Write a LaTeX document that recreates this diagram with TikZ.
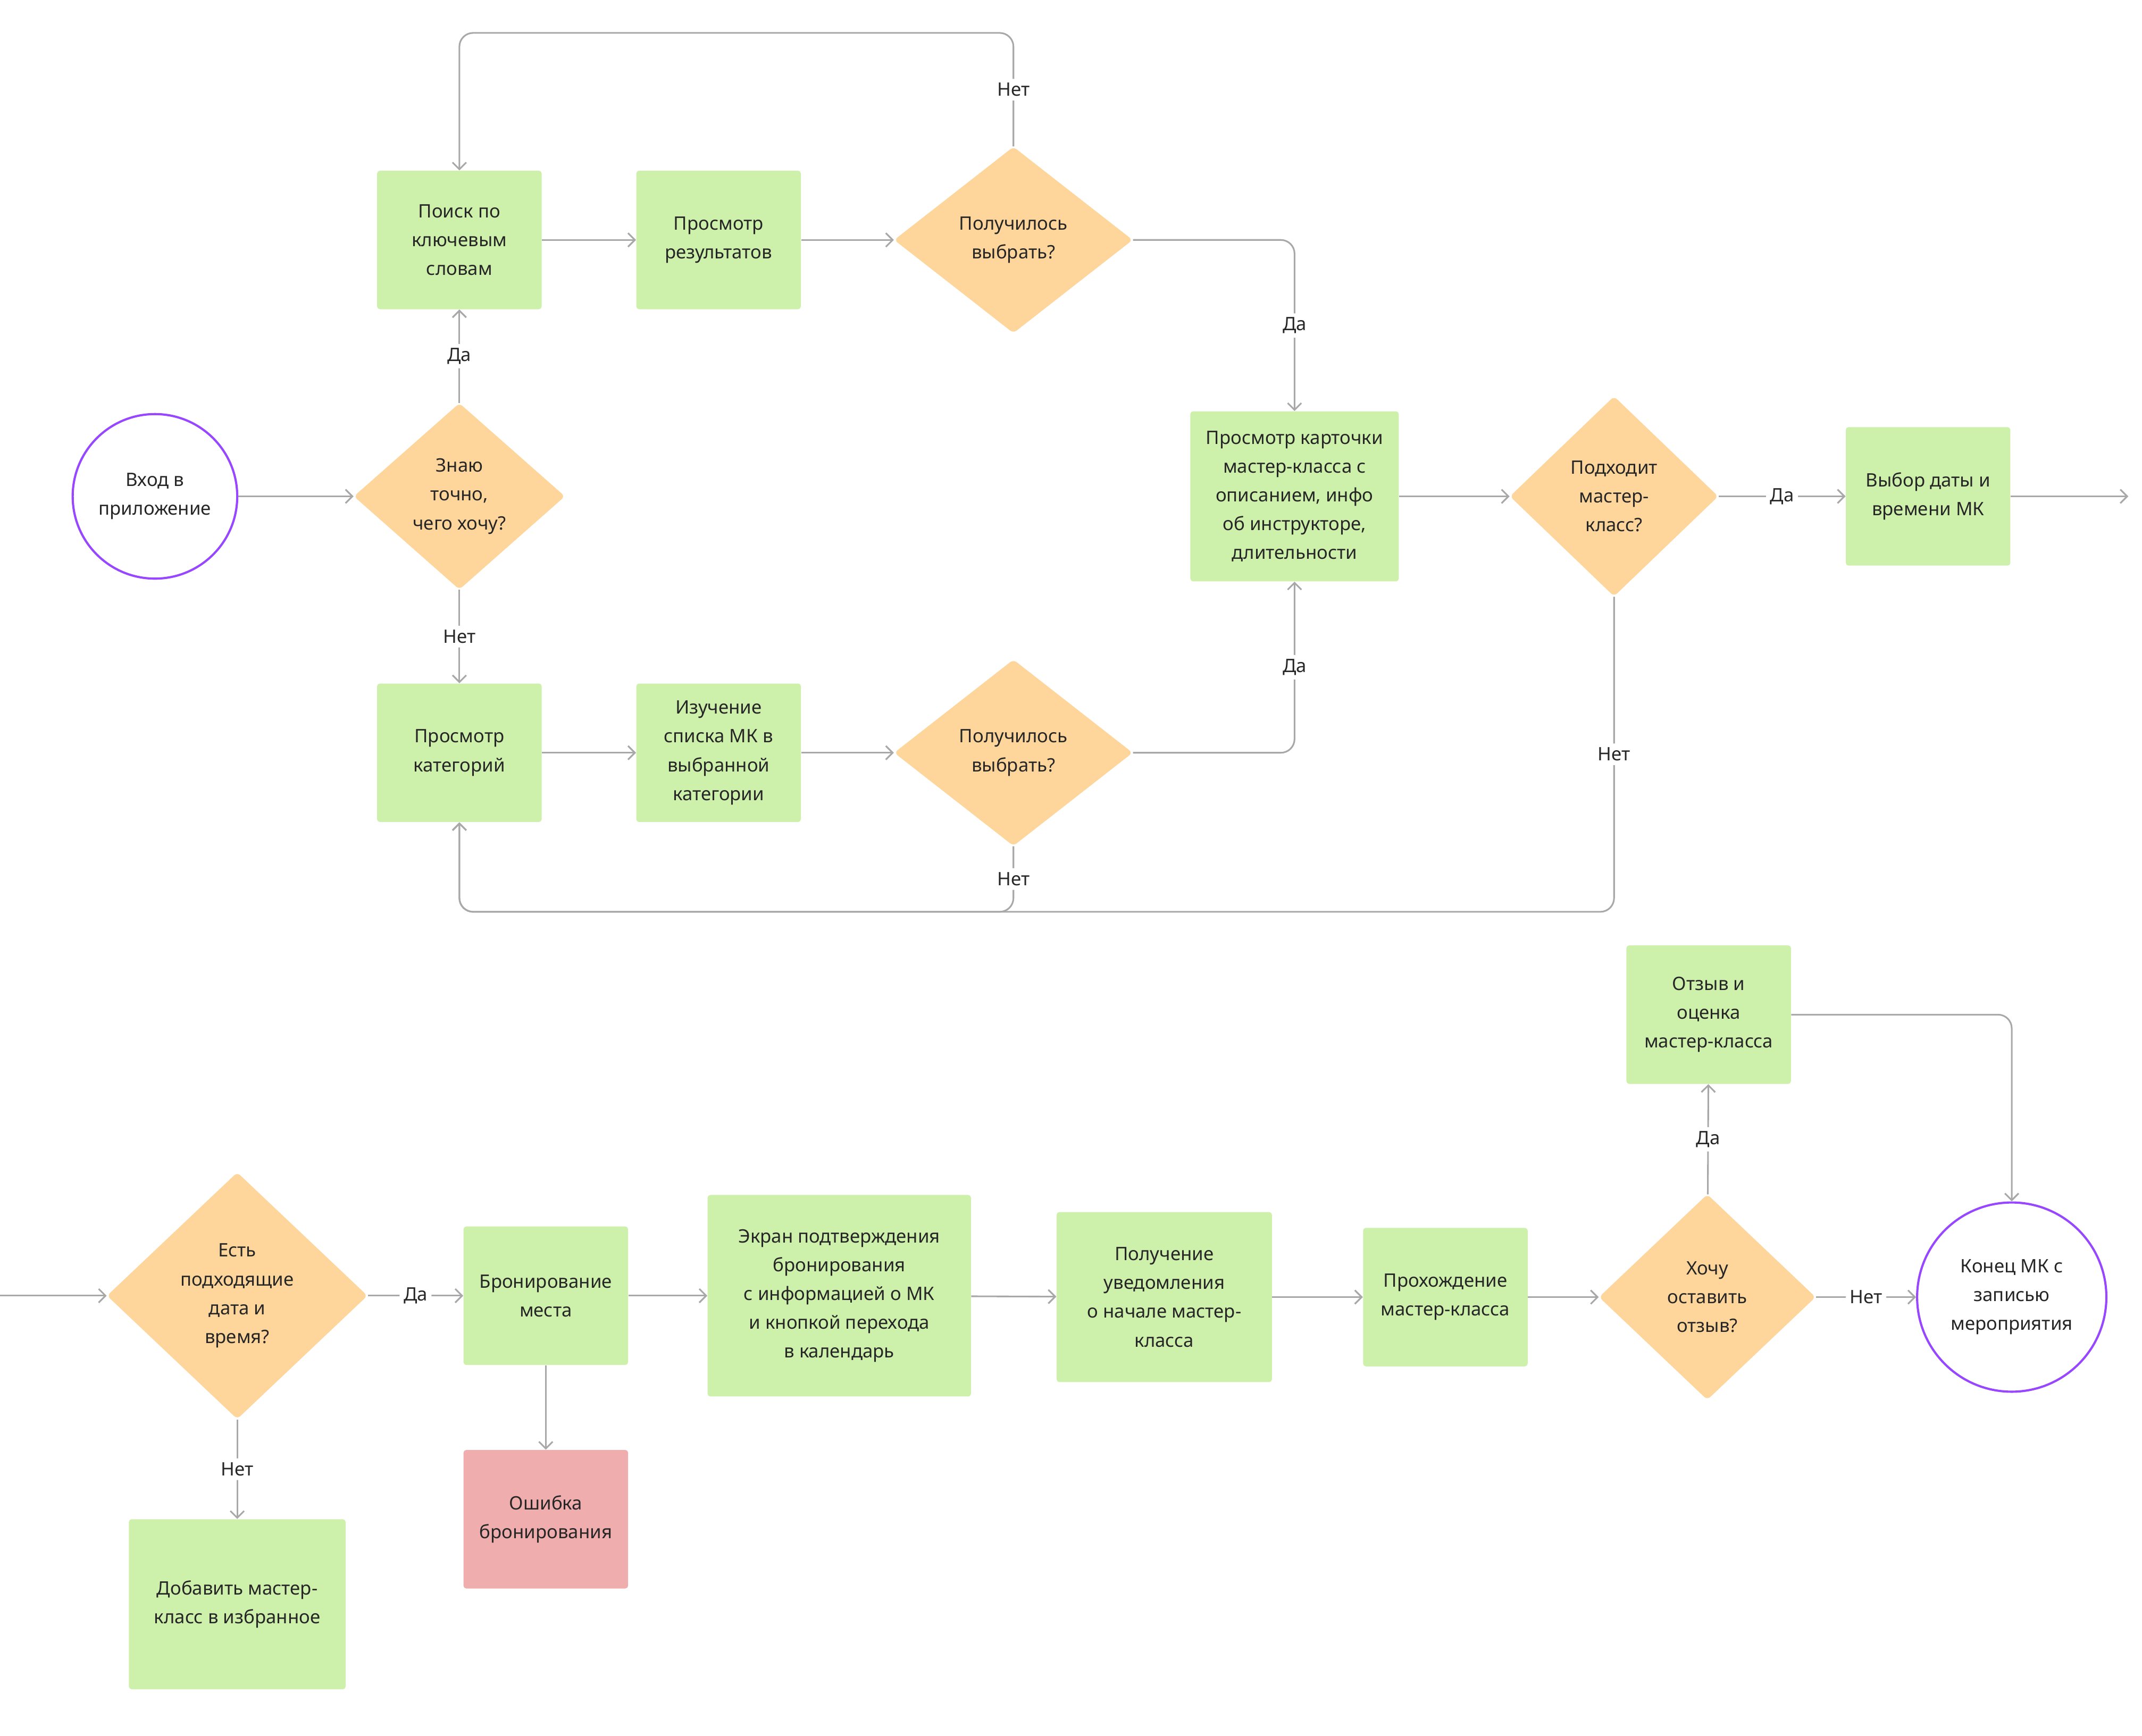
\documentclass[tikz,border=0pt]{standalone}
\usepackage{fontspec}
\setmainfont{Noto Sans}
\usetikzlibrary{arrows.meta,shapes.geometric}
\definecolor{gbox}{HTML}{CDF0AB}
\definecolor{obox}{HTML}{FED59B}
\definecolor{rbox}{HTML}{EFADAD}
\definecolor{ln}{HTML}{A8A8A8}
\definecolor{pur}{HTML}{9747FF}
\begin{document}
\begin{tikzpicture}[x=1pt,y=-1pt,
  every node/.style={font=\fontsize{13.5}{21}\selectfont, align=center, text=black!85},
  box/.style={rectangle, fill=gbox, rounded corners=2pt, minimum width=120pt, minimum height=101pt, inner sep=2pt},
  err/.style={box, fill=rbox},
  dia/.style={diamond, fill=obox, rounded corners=3pt, inner sep=0pt},
  circ/.style={circle, draw=pur, line width=1.6pt, fill=white, inner sep=0pt},
  con/.style={draw=ln, line width=1.2pt, rounded corners=10pt, -{Straight Barb[length=5pt,width=10pt]}},
  lbl/.style={fill=white, inner sep=3pt}]
\useasboundingbox (0,0) rectangle (1562,1266);
% top part
\node[circ, minimum size=120pt] (start) at (113,362) {Вход в\\приложение};
\node[dia, minimum width=154pt, minimum height=136pt] (d1) at (335,362) {Знаю\\точно,\\чего хочу?};
\node[box] (search) at (335,175) {Поиск по\\ключевым\\словам};
\node[box] (res) at (524,175) {Просмотр\\результатов};
\node[dia, minimum width=174pt, minimum height=136pt] (d2) at (739,175) {Получилось\\выбрать?};
\node[box, minimum width=152pt, minimum height=124pt] (card) at (944,362) {Просмотр карточки\\мастер-класса с\\описанием, инфо\\об инструкторе,\\длительности};
\node[dia, minimum width=152pt, minimum height=146pt] (d4) at (1177,362) {Подходит\\мастер-\\класс?};
\node[box] (date) at (1406,362) {Выбор даты и\\времени МК};
\coordinate (out) at (1552,362);
\node[box] (cat) at (335,549) {Просмотр\\категорий};
\node[box] (list) at (524,549) {Изучение\\списка МК в\\выбранной\\категории};
\node[dia, minimum width=174pt, minimum height=136pt] (d3) at (739,549) {Получилось\\выбрать?};

\draw[con] (start) -- (d1);
\draw[con] (d1) -- node[lbl]{Да} (search);
\draw[con] (d1) -- node[lbl]{Нет} (cat);
\draw[con] (search) -- (res);
\draw[con] (res) -- (d2);
\draw[con] (d2.north) -- node[lbl, pos=0.5]{Нет} (739,24) -- (335,24) -- (search.north);
\draw[con] (d2.east) -- (944,175) -- node[lbl]{Да} (card.north);
\draw[con] (d3.east) -- (944,549) -- node[lbl]{Да} (card.south);
\draw[con] (cat) -- (list);
\draw[con] (list) -- (d3);
\draw[con] (d3.south) -- node[lbl]{Нет} (739,665) -- (335,665) -- (cat.south);
\draw[con] (d4.south) -- node[lbl]{Нет} (1177,665) -- (335,665) -- (cat.south);
\draw[con] (card) -- (d4);
\draw[con] (d4) -- node[lbl]{Да} (date);
\draw[con] (date) -- (out);

% bottom part
\coordinate (in) at (0,945);
\node[dia, minimum width=190pt, minimum height=180pt] (d5) at (173,945) {Есть\\подходящие\\дата и\\время?};
\node[box] (book) at (398,945) {Бронирование\\места};
\node[err] (error) at (398,1108) {Ошибка\\бронирования};
\node[box, minimum width=192pt, minimum height=147pt] (conf) at (612,945) {Экран подтверждения\\бронирования\\с информацией о МК\\и кнопкой перехода\\в календарь};
\node[box, minimum width=157pt, minimum height=124pt] (notif) at (849,946) {Получение\\уведомления\\о начале мастер-\\класса};
\node[box] (pass) at (1054,946) {Прохождение\\мастер-класса};
\node[dia, minimum width=158pt, minimum height=150pt] (d6) at (1245,946) {Хочу\\оставить\\отзыв?};
\node[box] (rev) at (1246,740) {Отзыв и\\оценка\\мастер-класса};
\node[circ, minimum size=138pt] (end) at (1467,946) {Конец МК с\\записью\\мероприятия};
\node[box, minimum width=158pt, minimum height=124pt] (fav) at (173,1170) {Добавить мастер-\\класс в избранное};

\draw[con] (in) -- (d5);
\draw[con] (d5) -- node[lbl]{Да} (book);
\draw[con] (d5) -- node[lbl]{Нет} (fav);
\draw[con] (book) -- (error);
\draw[con] (book) -- (conf);
\draw[con] (conf) -- (notif);
\draw[con] (notif) -- (pass);
\draw[con] (pass) -- (d6);
\draw[con] (d6) -- node[lbl]{Нет} (end);
\draw[con] (d6) -- node[lbl]{Да} (rev);
\draw[con] (rev.east) -- (1467,740) -- (end.north);
\end{tikzpicture}
\end{document}
